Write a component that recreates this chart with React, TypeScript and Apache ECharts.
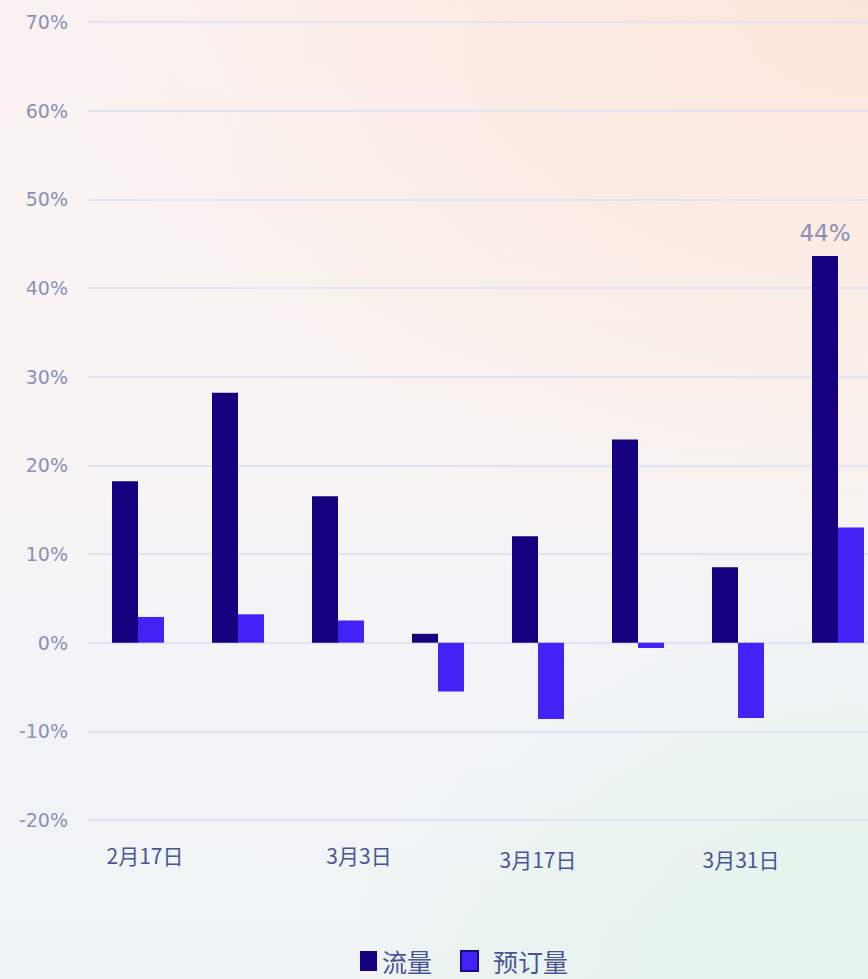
import React, { useEffect, useRef } from "react";
import * as echarts from "echarts";

// Weekly periods
const weeks = ["2月17日", "2月24日", "3月3日", "3月10日", "3月17日", "3月24日", "3月31日", "4月7日"];
// Week-over-week change, %
const trafficChange = [18.2, 28.2, 16.5, 1.0, 12.0, 22.9, 8.5, 43.6];
const bookingChange = [2.9, 3.2, 2.5, -5.5, -8.6, -0.6, -8.5, 13.0];
// Value axis range, %
const yTicks = { min: -20, max: 70, step: 10 };
// Small nudges of individual week labels: [dx, dy]
const labelNudge: [number, number][] = [
  [7, 0], [0, 0], [21, 0], [0, 0], [0, 4], [0, 0], [3, 4], [0, 0],
];

const DARK = "#15007f";
const BRIGHT = "#4322f5";

export default function App() {
  const ref = useRef<HTMLDivElement>(null);

  useEffect(() => {
    if (!ref.current) return;
    const chart = echarts.init(ref.current, undefined, { renderer: "svg" });
    const peak = Math.max(...trafficChange);

    chart.setOption({
      animation: false,
      backgroundColor: "transparent",
      grid: { left: 88, top: 22, right: 12, bottom: 159, containLabel: false },
      legend: {
        top: 942,
        left: 355,
        icon: "rect",
        itemWidth: 17,
        itemHeight: 20,
        itemGap: 28,
        textStyle: { fontSize: 25, lineHeight: 28, color: "#4a5596", fontFamily: "Noto Sans CJK SC" },
        data: [
          { name: "流量", itemStyle: { color: DARK } },
          {
            name: "预订量",
            itemStyle: { color: BRIGHT, borderColor: "#1c0a8c", borderWidth: 2 },
            textStyle: { padding: [0, 0, 0, 10] },
          },
        ],
      },
      xAxis: {
        type: "category",
        data: weeks.map((w, i) => {
          const [dx, dy] = labelNudge[i];
          return {
            value: w,
            textStyle: {
              padding: [dy, dx < 0 ? -2 * dx : 0, 0, dx > 0 ? 2 * dx : 0],
            },
          };
        }),
        axisLine: { show: false },
        axisTick: { show: false },
        axisLabel: {
          interval: 1,
          margin: 24,
          fontSize: 21,
          color: "#4a5596",
          fontFamily: "Noto Sans CJK SC",
        },
      },
      yAxis: {
        type: "value",
        min: yTicks.min,
        max: yTicks.max,
        interval: yTicks.step,
        axisLine: { show: false },
        axisTick: { show: false },
        axisLabel: {
          formatter: "{value}%",
          margin: 20,
          fontSize: 19,
          color: "#8a90b8",
          fontFamily: "DejaVu Sans",
        },
        splitLine: { lineStyle: { color: "#e0e3f1", width: 2 } },
      },
      series: [
        {
          name: "流量",
          type: "bar",
          barWidth: 26,
          barGap: "0%",
          itemStyle: { color: DARK },
          data: trafficChange.map((v) =>
            v === peak
              ? {
                  value: v,
                  label: {
                    show: true,
                    position: "top",
                    distance: 12,
                    fontSize: 23,
                    color: "#8a90b8",
                    fontFamily: "DejaVu Sans",
                    formatter: (p: any) => `${Math.round(p.value)}%`,
                  },
                }
              : v
          ),
        },
        {
          name: "预订量",
          type: "bar",
          barWidth: 26,
          barGap: "0%",
          itemStyle: { color: BRIGHT },
          data: bookingChange,
        },
      ],
    });

    return () => chart.dispose();
  }, []);

  return (
    <div
      style={{
        position: "fixed",
        left: 0,
        top: 0,
        width: 868,
        height: 979,
        overflow: "hidden",
        background:
          "radial-gradient(ellipse 95% 60% at 100% 0%, rgba(252,228,214,0.85), rgba(252,228,214,0) 100%)," +
          "radial-gradient(ellipse 60% 45% at 100% 100%, rgba(226,243,233,0.9), rgba(226,243,233,0) 100%)," +
          "linear-gradient(180deg, #faf2f1 0%, #f8f4f3 40%, #f2f4f7 70%, #eef4f3 100%)",
      }}
    >
      <div ref={ref} style={{ width: 900, height: 979 }} />
    </div>
  );
}
